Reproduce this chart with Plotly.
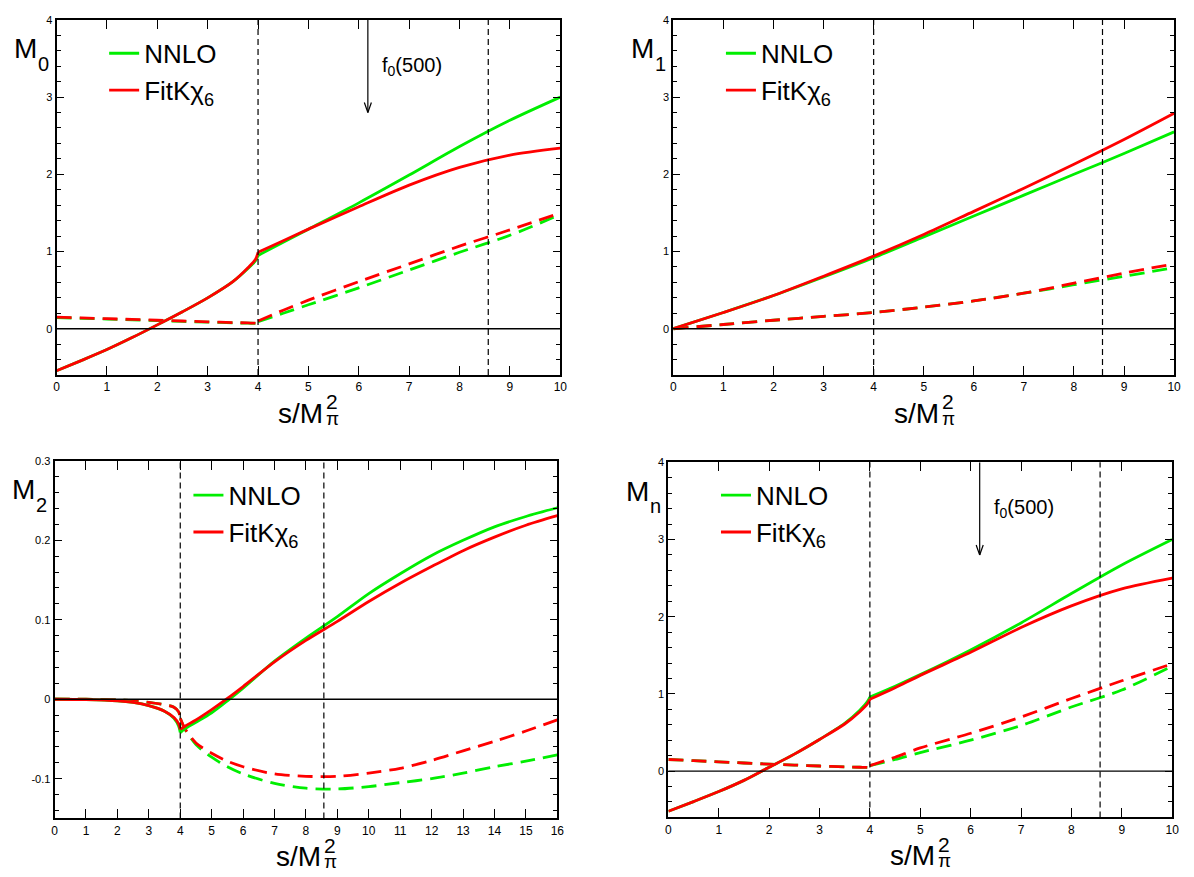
import plotly.graph_objects as go

W, H = 1194, 877
FONT = "Liberation Sans, Arial, Helvetica, sans-serif"
GREEN = "#00ee00"
RED = "#ff0000"

# ---------------- data ----------------
# M0 (top-left)
m0_x_lo = [0, 0.5, 1, 1.5, 2, 2.5, 3, 3.5, 3.8, 3.95, 4.0]
m0_nnlo_lo = [-0.545, -0.41, -0.27, -0.115, 0.05, 0.22, 0.40, 0.61, 0.78, 0.88, 0.95]
m0_fit_lo = [-0.545, -0.41, -0.27, -0.115, 0.05, 0.22, 0.40, 0.61, 0.79, 0.90, 0.99]
m0_nnlo_im_lo = [0.145, 0.135, 0.125, 0.115, 0.105, 0.095, 0.085, 0.077, 0.072, 0.070, 0.070]
m0_fit_im_lo = [0.150, 0.140, 0.130, 0.120, 0.110, 0.100, 0.090, 0.080, 0.075, 0.072, 0.072]
m0_x_hi = [4.0, 4.5, 5, 6, 7, 8, 9, 10]
m0_nnlo_hi = [0.95, 1.12, 1.29, 1.63, 1.99, 2.36, 2.70, 3.00]
m0_fit_hi = [0.99, 1.14, 1.29, 1.58, 1.86, 2.09, 2.25, 2.34]
m0_nnlo_im_hi = [0.09, 0.20, 0.31, 0.53, 0.76, 0.99, 1.21, 1.48]
m0_fit_im_hi = [0.10, 0.24, 0.37, 0.61, 0.84, 1.07, 1.28, 1.50]

# M1 (top-right)
m1_x = [0, 1, 2, 3, 4, 5, 6, 7, 8, 9, 10]
m1_nnlo = [0, 0.21, 0.43, 0.67, 0.92, 1.19, 1.46, 1.73, 2.00, 2.27, 2.55]
m1_fit = [0, 0.21, 0.43, 0.68, 0.94, 1.22, 1.52, 1.82, 2.13, 2.45, 2.79]
m1_nnlo_im = [0, 0.055, 0.11, 0.16, 0.21, 0.28, 0.36, 0.46, 0.57, 0.68, 0.79]
m1_fit_im = [0, 0.055, 0.11, 0.16, 0.21, 0.28, 0.36, 0.46, 0.59, 0.72, 0.84]

# M2 (bottom-left)
m2_x_lo = [0, 1, 2, 2.5, 3, 3.5, 3.8, 3.95, 4.0]
m2_nnlo_lo = [0, -0.0005, -0.002, -0.004, -0.008, -0.015, -0.024, -0.034, -0.042]
m2_fit_lo = [0, -0.0005, -0.002, -0.004, -0.008, -0.015, -0.023, -0.031, -0.038]
m2_nnlo_im_lo = [0, 0, -0.001, -0.002, -0.004, -0.007, -0.010, -0.016, -0.024]
m2_fit_im_lo = [0, 0, -0.001, -0.002, -0.004, -0.007, -0.010, -0.016, -0.024]
m2_x_hi = [4.0, 4.15, 4.5, 5, 5.5, 6, 7, 8, 9, 10, 11, 12, 13, 14, 15, 16]
m2_nnlo_hi = [-0.042, -0.037, -0.029, -0.017, -0.002, 0.014, 0.048, 0.077, 0.104, 0.133, 0.158, 0.181, 0.200, 0.217, 0.230, 0.241]
m2_fit_hi = [-0.038, -0.034, -0.026, -0.013, 0.001, 0.016, 0.047, 0.074, 0.098, 0.123, 0.146, 0.167, 0.187, 0.204, 0.219, 0.231]
m2_nnlo_im_hi = [-0.024, -0.038, -0.057, -0.073, -0.085, -0.094, -0.106, -0.112, -0.113, -0.110, -0.105, -0.100, -0.093, -0.085, -0.078, -0.070]
m2_fit_im_hi = [-0.024, -0.037, -0.055, -0.068, -0.078, -0.085, -0.094, -0.097, -0.097, -0.093, -0.087, -0.077, -0.065, -0.053, -0.040, -0.026]

# Mn (bottom-right)
mn_x_lo = [0, 0.5, 1, 1.5, 2, 2.5, 3, 3.5, 3.8, 3.95, 4.0]
mn_nnlo_lo = [-0.52, -0.395, -0.265, -0.12, 0.05, 0.22, 0.41, 0.62, 0.79, 0.90, 0.96]
mn_fit_lo = [-0.52, -0.395, -0.265, -0.12, 0.05, 0.22, 0.41, 0.61, 0.77, 0.87, 0.93]
mn_nnlo_im_lo = [0.150, 0.135, 0.120, 0.105, 0.090, 0.078, 0.066, 0.055, 0.050, 0.048, 0.048]
mn_fit_im_lo = [0.150, 0.135, 0.120, 0.105, 0.090, 0.078, 0.066, 0.055, 0.050, 0.048, 0.048]
mn_x_hi = [4.0, 4.5, 5, 6, 7, 8, 9, 10]
mn_nnlo_hi = [0.96, 1.10, 1.25, 1.57, 1.92, 2.30, 2.67, 3.00]
mn_fit_hi = [0.93, 1.08, 1.24, 1.54, 1.86, 2.14, 2.36, 2.50]
mn_nnlo_im_hi = [0.07, 0.15, 0.24, 0.40, 0.59, 0.83, 1.05, 1.36]
mn_fit_im_hi = [0.07, 0.18, 0.30, 0.49, 0.70, 0.94, 1.17, 1.39]

# markers / annotations
series_names = ["NNLO", "FitK\u03c7<sub>6</sub>"]
vlines = [4.0, 8.57]
f0_x, f0_tip, f0_label_x, f0_label_y = 6.18, 2.80, 6.42, 3.40
panel_labels = [("M", "0"), ("M", "1"), ("M", "2"), ("M", "n")]

y_ticks_top = [0, 1, 2, 3, 4]
y_ticks_m2 = [-0.1, 0, 0.1, 0.2, 0.3]

# panel geometry (pixels in the 1194x877 page)
panels = [
    dict(l=54, r=562, t=14.0, b=371.6, xr=[0, 10], yr=[-0.6, 4], minor=0.2, yt=y_ticks_top),
    dict(l=676, r=1181, t=14.0, b=371.6, xr=[0, 10], yr=[-0.6, 4], minor=0.2, yt=y_ticks_top),
    dict(l=52, r=559, t=458.0, b=818.0, xr=[0, 16], yr=[-0.15, 0.3], minor=0.02, yt=y_ticks_m2),
    dict(l=671, r=1179, t=459.5, b=817.0, xr=[0, 10], yr=[-0.6, 4], minor=0.2, yt=y_ticks_top),
]
legend_pos = [(102, 24), (724, 24), (187, 469), (719, 469)]

fig = go.Figure()
LW = 2.8
DASH = "15px,8px"


def ids(k):
    s = "" if k == 0 else str(k + 1)
    return "x" + s, "y" + s, "legend" + s


def add(k, x, y, color, dash, name=None, show=False):
    xa, ya, lg = ids(k)
    fig.add_trace(go.Scatter(
        x=x, y=y, mode="lines", xaxis=xa, yaxis=ya, legend=lg,
        line=dict(color=color, width=LW, dash=dash, shape="spline", smoothing=0.8),
        name=name, showlegend=show, hoverinfo="skip"))


# M0
add(0, m0_x_lo, m0_nnlo_im_lo, GREEN, DASH)
add(0, m0_x_lo, m0_fit_im_lo, RED, DASH)
add(0, m0_x_hi, m0_nnlo_im_hi, GREEN, DASH)
add(0, m0_x_hi, m0_fit_im_hi, RED, DASH)
add(0, m0_x_lo, m0_nnlo_lo, GREEN, "solid", series_names[0], True)
add(0, m0_x_hi, m0_nnlo_hi, GREEN, "solid")
add(0, m0_x_lo, m0_fit_lo, RED, "solid", series_names[1], True)
add(0, m0_x_hi, m0_fit_hi, RED, "solid")
# M1
add(1, m1_x, m1_nnlo_im, GREEN, DASH)
add(1, m1_x, m1_fit_im, RED, DASH)
add(1, m1_x, m1_nnlo, GREEN, "solid", series_names[0], True)
add(1, m1_x, m1_fit, RED, "solid", series_names[1], True)
# M2
add(2, m2_x_lo, m2_nnlo_im_lo, GREEN, DASH)
add(2, m2_x_lo, m2_fit_im_lo, RED, DASH)
add(2, m2_x_hi, m2_nnlo_im_hi, GREEN, DASH)
add(2, m2_x_hi, m2_fit_im_hi, RED, DASH)
add(2, m2_x_lo, m2_nnlo_lo, GREEN, "solid", series_names[0], True)
add(2, m2_x_hi, m2_nnlo_hi, GREEN, "solid")
add(2, m2_x_lo, m2_fit_lo, RED, "solid", series_names[1], True)
add(2, m2_x_hi, m2_fit_hi, RED, "solid")
# Mn
add(3, mn_x_lo, mn_nnlo_im_lo, GREEN, DASH)
add(3, mn_x_lo, mn_fit_im_lo, RED, DASH)
add(3, mn_x_hi, mn_nnlo_im_hi, GREEN, DASH)
add(3, mn_x_hi, mn_fit_im_hi, RED, DASH)
add(3, mn_x_lo, mn_nnlo_lo, GREEN, "solid", series_names[0], True)
add(3, mn_x_hi, mn_nnlo_hi, GREEN, "solid")
add(3, mn_x_lo, mn_fit_lo, RED, "solid", series_names[1], True)
add(3, mn_x_hi, mn_fit_hi, RED, "solid")


def fmt(v):
    return "%g" % v


layout = dict(
    width=W, height=H, margin=dict(l=0, r=0, t=0, b=0),
    paper_bgcolor="white", plot_bgcolor="white",
    font=dict(family=FONT, color="black"),
    showlegend=True,
)
shapes = []
annotations = []


def ax_px_x(px):
    return px / W


def ax_px_y(py):
    return 1 - py / H


for k, p in enumerate(panels):
    xa, ya, lg = ids(k)
    xkey = "xaxis" + xa[1:]
    ykey = "yaxis" + ya[1:]
    layout[xkey] = dict(
        domain=[p["l"] / W, p["r"] / W], range=p["xr"], anchor=ya,
        tickmode="linear", tick0=0, dtick=1, ticks="inside", ticklen=9, tickwidth=1.2,
        tickcolor="black", showline=True, linecolor="black", linewidth=2,
        mirror="allticks", showgrid=False, zeroline=False,
        tickfont=dict(size=12, family=FONT, color="black"), fixedrange=True)
    layout[ykey] = dict(
        domain=[1 - p["b"] / H, 1 - p["t"] / H], range=p["yr"], anchor=xa,
        tickmode="array", tickvals=p["yt"], ticktext=[fmt(v) for v in p["yt"]],
        ticks="inside", ticklen=7, tickwidth=1.2, tickcolor="black",
        minor=dict(dtick=p["minor"], tick0=0, ticks="inside", ticklen=4, tickwidth=1.2,
                   tickcolor="black", showgrid=False),
        showline=True, linecolor="black", linewidth=2, mirror="allticks",
        showgrid=False, zeroline=False,
        tickfont=dict(size=11, family=FONT, color="black"), fixedrange=True)
    lx, ly = legend_pos[k]
    layout[lg] = dict(x=lx / W, y=1 - ly / H, xanchor="left", yanchor="top",
                      font=dict(size=26, family=FONT, color="black"),
                      bgcolor="rgba(0,0,0,0)", borderwidth=0, tracegroupgap=0)
    # zero line
    shapes.append(dict(type="line", xref=xa + " domain", yref=ya, x0=0, x1=1, y0=0, y1=0,
                       line=dict(color="black", width=1.3)))
    # threshold dashed lines
    for v in vlines:
        shapes.append(dict(type="line", xref=xa, yref=ya + " domain", x0=v, x1=v, y0=0, y1=1,
                           line=dict(color="black", width=1.2, dash="6px,4px")))
    # panel label  M_k
    big, sub = panel_labels[k]
    annotations.append(dict(text=big, xref="paper", yref="paper", showarrow=False,
                            x=ax_px_x(p["l"] - 45), y=ax_px_y(p["t"] + 40 + 0.21 * 28 + 1),
                            xanchor="left", yanchor="bottom",
                            font=dict(size=28, family=FONT, color="black")))
    annotations.append(dict(text=sub, xref="paper", yref="paper", showarrow=False,
                            x=ax_px_x(p["l"] - 21), y=ax_px_y(p["t"] + 52 + 0.21 * 20 + 1),
                            xanchor="left", yanchor="bottom",
                            font=dict(size=20, family=FONT, color="black")))
    # x-axis title  s/M_pi^2
    cx = (p["l"] + p["r"]) / 2
    annotations.append(dict(text="s/M", xref="paper", yref="paper", showarrow=False,
                            x=ax_px_x(cx + 17), y=ax_px_y(p["b"] + 49 + 0.21 * 28 + 1),
                            xanchor="right", yanchor="bottom",
                            font=dict(size=28, family=FONT, color="black")))
    annotations.append(dict(text="2", xref="paper", yref="paper", showarrow=False,
                            x=ax_px_x(cx + 16), y=ax_px_y(p["b"] + 35 + 0.21 * 21 + 1),
                            xanchor="left", yanchor="bottom",
                            font=dict(size=21, family=FONT, color="black")))
    annotations.append(dict(text="\u03c0", xref="paper", yref="paper", showarrow=False,
                            x=ax_px_x(cx + 16), y=ax_px_y(p["b"] + 51 + 0.21 * 19 + 1),
                            xanchor="left", yanchor="bottom",
                            font=dict(size=19, family=FONT, color="black")))

# f0(500) arrows (top-left and bottom-right panels)
for k in (0, 3):
    xa, ya, lg = ids(k)
    top = panels[k]["yr"][1]
    shapes.append(dict(type="line", xref=xa, yref=ya, x0=f0_x, x1=f0_x, y0=top, y1=f0_tip,
                       line=dict(color="black", width=1.2)))
    for sgn in (-1, 1):
        shapes.append(dict(type="line", xref=xa, yref=ya, x0=f0_x, y0=f0_tip,
                           x1=f0_x + sgn * 0.07, y1=f0_tip + 0.13,
                           line=dict(color="black", width=1.2)))
    annotations.append(dict(text="f<sub>0</sub>(500)", xref=xa, yref=ya, showarrow=False,
                            x=f0_label_x, y=f0_label_y, xanchor="left", yanchor="middle",
                            font=dict(size=20, family=FONT, color="black")))

layout["shapes"] = shapes
layout["annotations"] = annotations
fig.update_layout(**layout)
fig.write_html("out.html", config={"displayModeBar": False},
               post_script="document.body.style.margin='0';document.body.style.overflow='hidden';")
